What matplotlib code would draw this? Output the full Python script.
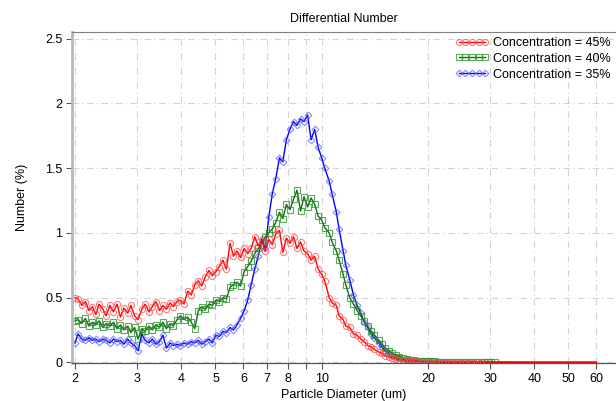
import matplotlib
matplotlib.use('Agg')
import matplotlib.pyplot as plt
import numpy as np

plt.rcParams['font.family'] = ['Liberation Sans', 'DejaVu Sans']

# particle size channels (um)
diameter = [2.00, 2.04, 2.09, 2.14, 2.19, 2.24, 2.29, 2.34, 2.40, 2.45,
            2.51, 2.57, 2.63, 2.69, 2.75, 2.82, 2.88, 2.95, 3.02, 3.09,
            3.16, 3.24, 3.31, 3.39, 3.47, 3.55, 3.63, 3.72, 3.80, 3.89,
            3.98, 4.07, 4.17, 4.27, 4.37, 4.47, 4.57, 4.68, 4.79, 4.90,
            5.01, 5.13, 5.25, 5.37, 5.50, 5.62, 5.75, 5.89, 6.03, 6.17,
            6.31, 6.46, 6.61, 6.76, 6.92, 7.08, 7.24, 7.41, 7.59, 7.76,
            7.94, 8.13, 8.32, 8.51, 8.71, 8.91, 9.12, 9.33, 9.55, 9.77,
            10.0, 10.2, 10.5, 10.7, 11.0, 11.2, 11.5, 11.7, 12.0, 12.3,
            12.6, 12.9, 13.2, 13.5, 13.8, 14.1, 14.5, 14.8, 15.1, 15.5,
            15.8, 16.2, 16.6, 17.0, 17.4, 17.8, 18.2, 18.6, 19.1, 19.5,
            20.0, 20.4, 20.9, 21.4, 21.9, 22.4, 22.9, 23.4, 24.0, 24.5,
            25.1, 25.7, 26.3, 26.9, 27.5, 28.2, 28.8, 29.5, 30.2, 30.9,
            40.0, 50.0, 60.0]

conc45 = [0.50, 0.49, 0.44, 0.47, 0.40, 0.43, 0.37, 0.45, 0.41, 0.36,
          0.44, 0.39, 0.45, 0.35, 0.42, 0.38, 0.44, 0.36, 0.33, 0.41,
          0.45, 0.39, 0.43, 0.47, 0.40, 0.44, 0.41, 0.46, 0.43, 0.47,
          0.48, 0.45, 0.55, 0.52, 0.60, 0.63, 0.59, 0.66, 0.71, 0.67,
          0.70, 0.74, 0.79, 0.72, 0.92, 0.82, 0.86, 0.81, 0.88, 0.84,
          0.88, 0.97, 0.90, 0.94, 0.86, 0.95, 0.91, 0.99, 1.02, 0.85,
          0.96, 0.92, 0.97, 0.88, 0.93, 0.86, 0.84, 0.79, 0.82, 0.72,
          0.68, 0.63, 0.50, 0.46, 0.44, 0.36, 0.33, 0.28, 0.27, 0.22,
          0.21, 0.18, 0.16, 0.13, 0.12, 0.10, 0.08, 0.07, 0.05, 0.045,
          0.035, 0.028, 0.022, 0.018, 0.014, 0.011, 0.009, 0.008, 0.006, 0.005,
          0.005, 0.004, 0.004, 0.003, 0.004, 0.003, 0.003, 0.002, 0.003, 0.002,
          0.002, 0.002, 0.003, 0.002, 0.002, 0.002, 0, 0, 0, 0,
          0, 0, 0]

conc40 = [0.32, 0.33, 0.30, 0.34, 0.28, 0.31, 0.29, 0.32, 0.27, 0.30,
          0.28, 0.31, 0.26, 0.29, 0.25, 0.28, 0.23, 0.27, 0.18, 0.26,
          0.24, 0.28, 0.25, 0.29, 0.27, 0.31, 0.26, 0.30, 0.28, 0.33,
          0.36, 0.33, 0.35, 0.31, 0.26, 0.40, 0.43, 0.41, 0.45, 0.44,
          0.48, 0.47, 0.50, 0.49, 0.58, 0.60, 0.62, 0.59, 0.70, 0.74,
          0.78, 0.84, 0.88, 0.91, 0.97, 1.00, 1.03, 1.08, 1.16, 1.11,
          1.22, 1.18, 1.26, 1.33, 1.17, 1.28, 1.20, 1.27, 1.22, 1.13,
          1.10, 1.04, 1.00, 0.93, 0.86, 0.79, 0.68, 0.60, 0.50, 0.45,
          0.40, 0.36, 0.32, 0.28, 0.24, 0.21, 0.17, 0.14, 0.11, 0.09,
          0.07, 0.055, 0.045, 0.035, 0.028, 0.022, 0.017, 0.014, 0.012, 0.010,
          0.009, 0.008, 0.007, 0.006, 0.006, 0.005, 0.004, 0.005, 0.004, 0.004,
          0.003, 0.004, 0.003, 0.003, 0.002, 0.003, 0.002, 0.003, 0.002, 0.003,
          0, 0, 0]

conc35 = [0.15, 0.22, 0.18, 0.17, 0.19, 0.17, 0.18, 0.16, 0.18, 0.17,
          0.15, 0.18, 0.16, 0.17, 0.14, 0.18, 0.15, 0.13, 0.09, 0.22,
          0.17, 0.15, 0.18, 0.14, 0.16, 0.21, 0.11, 0.15, 0.13, 0.14,
          0.13, 0.15, 0.14, 0.16, 0.15, 0.17, 0.14, 0.16, 0.18, 0.15,
          0.21, 0.20, 0.24, 0.23, 0.27, 0.25, 0.29, 0.34, 0.40, 0.48,
          0.60, 0.72, 0.82, 0.95, 0.88, 1.12, 1.30, 1.42, 1.58, 1.55,
          1.72, 1.80, 1.86, 1.83, 1.88, 1.86, 1.91, 1.72, 1.80, 1.66,
          1.58, 1.50, 1.40, 1.30, 1.16, 1.03, 0.86, 0.75, 0.64, 0.52,
          0.44, 0.38, 0.31, 0.27, 0.22, 0.19, 0.15, 0.12, 0.09, 0.07,
          0.05, 0.04, 0.03, 0.022, 0.016, 0.012, 0.009, 0.007, 0.006, 0.005,
          0.004, 0.004, 0.003, 0.003, 0.002, 0, 0, 0, 0, 0,
          0, 0, 0, 0, 0, 0, 0, 0, 0, 0,
          0, 0, 0]

labels = ['Concentration = 45%', 'Concentration = 40%', 'Concentration = 35%']

fig = plt.figure(figsize=(6.16, 4.01), dpi=100)
ax = fig.add_axes([72 / 616, 38 / 401, 544 / 616, 331 / 401])

series = [
    (conc35, 'D', '#0000ff', (0.35, 0.35, 1.0, 0.7), 3.4, labels[2]),
    (conc40, 's', '#107010', (0.15, 0.55, 0.15, 0.75), 4.0, labels[1]),
    (conc45, 'o', '#ff0000', (1.0, 0.3, 0.3, 0.75), 4.4, labels[0]),
]
handles = {}
for vals, mk, col, mcol, ms, lab in series:
    mask = [v > 0 for v in vals]
    h, = ax.plot(diameter, vals, color=col, lw=1.0, marker=mk, ms=ms,
                 mfc='none', mec=mcol, mew=0.8, markevery=mask, label=lab)
    handles[lab] = h

ax.set_xscale('log')
ax.set_xlim(1.961, 68.2)
ax.set_ylim(-0.005, 2.552)

xt = [2, 3, 4, 5, 6, 7, 8, 9, 10, 20, 30, 40, 50, 60]
ax.set_xticks(xt)
ax.set_xticklabels(['' if t == 9 else str(t) for t in xt])
ax.xaxis.set_minor_locator(matplotlib.ticker.NullLocator())
yt = [0, 0.5, 1, 1.5, 2, 2.5]
ax.set_yticks(yt)
ax.set_yticklabels(['0', '0.5', '1', '1.5', '2', '2.5'])
ax.tick_params(labelsize=9, length=4, width=0.8, color='#555555', pad=3)

ax.grid(True, color='#d4d4d4', lw=0.8, ls=(0, (6, 3, 1, 3)))
ax.set_axisbelow(True)

ax.spines['right'].set_visible(False)
ax.spines['top'].set_color('#808080')
ax.spines['top'].set_linewidth(0.8)
ax.spines['left'].set_color('#b8b8b8')
ax.spines['left'].set_linewidth(2.0)
ax.spines['bottom'].set_color('#555555')
ax.spines['bottom'].set_linewidth(0.9)

ax.set_title('Differential Number', fontsize=9, pad=7)
ax.set_xlabel('Particle Diameter (um)', fontsize=9, labelpad=3)
ax.set_ylabel('Number (%)', fontsize=9, labelpad=12)

ax.legend([handles[l] for l in labels], labels, loc='upper right',
          bbox_to_anchor=(1.0, 1.0), frameon=False, fontsize=9, numpoints=5,
          handlelength=2.7, handletextpad=0.35, labelspacing=0.3,
          borderaxespad=0.2, borderpad=0.2)

fig.savefig('out.png', dpi=100)
